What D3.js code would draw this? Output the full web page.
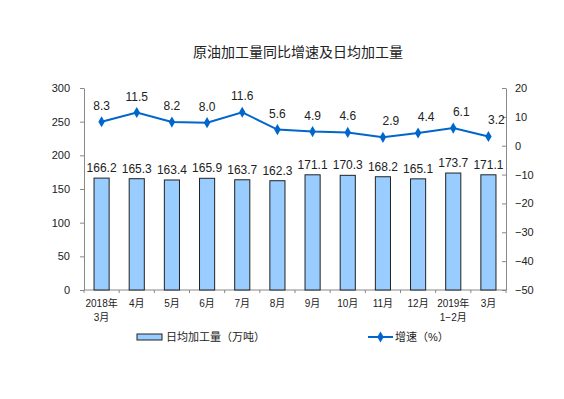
<!DOCTYPE html>
<html>
<head>
<meta charset="utf-8">
<script src="https://cdn.jsdelivr.net/npm/d3@7"></script>
<style>
  body { margin: 0; background: #fff; }
  text { font-family: "Liberation Sans", Arial, "Noto Sans CJK SC", sans-serif; fill: #222; }
</style>
</head>
<body>
<div id="chart"></div>
<script>
// data
const categories = ["2018年\n3月", "4月", "5月", "6月", "7月", "8月", "9月", "10月", "11月", "12月", "2019年\n1−2月", "3月"]
const dailyOutput = [166.2, 165.3, 163.4, 165.9, 163.7, 162.3, 171.1, 170.3, 168.2, 165.1, 173.7, 171.1]
const growth = [8.3, 11.5, 8.2, 8.0, 11.6, 5.6, 4.9, 4.6, 2.9, 4.4, 6.1, 3.2]
const leftTicks = [0, 50, 100, 150, 200, 250, 300]
const rightTicks = [-50, -40, -30, -20, -10, 0, 10, 20]

const W = 564, H = 399
const margin = { top: 88, right: 58, bottom: 109, left: 84 }
const width = W - margin.left - margin.right
const height = H - margin.top - margin.bottom

const barColor = "#99ccff"
const lineColor = "#0066cc"
const axisColor = "#888"

const svg = d3.select("#chart").append("svg")
  .attr("width", W)
  .attr("height", H)

// title
svg.append("text")
  .attr("x", 298)
  .attr("y", 57)
  .attr("text-anchor", "middle")
  .style("font-size", "14px")
  .text("原油加工量同比增速及日均加工量")

const g = svg.append("g")
  .attr("transform", "translate(" + margin.left + "," + margin.top + ")")

// scales
const x = d3.scaleBand().domain(d3.range(categories.length)).range([0, width]).paddingInner(0.57).paddingOuter(0.285)
const yL = d3.scaleLinear().domain([0, 300]).range([height, 0])
const yR = d3.scaleLinear().domain([-50, 20]).range([height, 0])
const cx = i => x(i) + x.bandwidth() / 2

// left axis
const axL = g.append("g")
  .call(d3.axisLeft(yL).tickValues(leftTicks).tickSize(4).tickSizeOuter(0).tickPadding(10))
axL.selectAll("text").style("font-size", "11px").attr("fill", "#222")

// right axis, ticks point inward
const axR = g.append("g")
  .attr("transform", "translate(" + width + ",0)")
  .call(d3.axisRight(yR).tickValues(rightTicks).tickSize(0).tickSizeOuter(0).tickPadding(9))
axR.selectAll(".tick line").attr("x1", -4).attr("x2", 0)
axR.selectAll("text").style("font-size", "11px").attr("fill", "#222")

// bottom axis, ticks between categories
const xb = g.append("g").attr("transform", "translate(0," + height + ")")
xb.append("line").attr("x1", 0).attr("x2", width).attr("stroke", axisColor)
const step = x.step()
xb.selectAll("line.tk")
  .data(d3.range(categories.length + 1))
  .join("line")
  .attr("class", "tk")
  .attr("x1", i => i * step)
  .attr("x2", i => i * step)
  .attr("y1", 0).attr("y2", 3)
  .attr("stroke", axisColor)

xb.selectAll("text.cat")
  .data(categories)
  .join("text")
  .attr("class", "cat")
  .attr("text-anchor", "middle")
  .attr("transform", (d, i) => "translate(" + cx(i) + ",17)")
  .style("font-size", "10px")
  .each(function (d) {
    d.split("\n").forEach((t, k) => {
      d3.select(this).append("tspan").attr("x", 0).attr("dy", k ? 14 : 0).text(t)
    })
  })

g.selectAll(".domain").attr("stroke", axisColor)
g.selectAll(".tick line").attr("stroke", axisColor)

// bars
g.selectAll("rect.bar")
  .data(dailyOutput)
  .join("rect")
  .attr("class", "bar")
  .attr("x", (d, i) => x(i))
  .attr("y", d => yL(d))
  .attr("width", x.bandwidth())
  .attr("height", d => height - yL(d))
  .attr("fill", barColor)
  .attr("stroke", "#222")

g.selectAll("text.barlabel")
  .data(dailyOutput)
  .join("text")
  .attr("class", "barlabel")
  .attr("x", (d, i) => cx(i))
  .attr("y", d => yL(d) - 6)
  .attr("text-anchor", "middle")
  .style("font-size", "12px")
  .text(d => d.toFixed(1))

// growth line
g.append("path")
  .datum(growth)
  .attr("d", d3.line().x((d, i) => cx(i)).y(d => yR(d)))
  .attr("fill", "none")
  .attr("stroke", lineColor)
  .attr("stroke-width", 2)

const diamond = d3.symbol().type(d3.symbolDiamond).size(36)
g.selectAll("path.marker")
  .data(growth)
  .join("path")
  .attr("class", "marker")
  .attr("d", diamond)
  .attr("transform", (d, i) => "translate(" + cx(i) + "," + yR(d) + ")")
  .attr("fill", lineColor)

g.selectAll("text.linelabel")
  .data(growth)
  .join("text")
  .attr("class", "linelabel")
  .attr("x", (d, i) => cx(i) + (i >= 8 ? 8 : 0))
  .attr("y", d => yR(d) - 12)
  .attr("text-anchor", "middle")
  .style("font-size", "12px")
  .text(d => d.toFixed(1))

// legend
const lg = svg.append("g").attr("transform", "translate(0,337)")
lg.append("rect")
  .attr("x", 137).attr("y", -3).attr("width", 25).attr("height", 6)
  .attr("fill", barColor).attr("stroke", "#222")
lg.append("text")
  .attr("x", 166).attr("y", 4)
  .style("font-size", "11px")
  .text("日均加工量（万吨）")
lg.append("line")
  .attr("x1", 368).attr("x2", 393).attr("y1", 0).attr("y2", 0)
  .attr("stroke", lineColor).attr("stroke-width", 2)
lg.append("path")
  .attr("d", diamond)
  .attr("transform", "translate(380.5,0)")
  .attr("fill", lineColor)
lg.append("text")
  .attr("x", 395).attr("y", 4)
  .style("font-size", "11px")
  .text("增速（%）")
</script>
</body>
</html>
